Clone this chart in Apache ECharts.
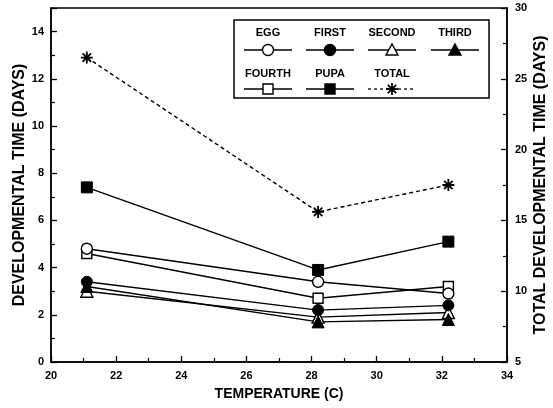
<!DOCTYPE html>
<html>
<head>
<meta charset="utf-8">
<script src="https://cdn.jsdelivr.net/npm/echarts@6/dist/echarts.min.js"></script>
<style>
  html, body { margin: 0; padding: 0; background: #fff; }
  #chart { width: 553px; height: 408px; }
</style>
</head>
<body>
<div id="chart"></div>
<script>
// Temperatures (C) at which each stage was timed
const temps = [21.1, 28.2, 32.2];

// Developmental time (days) per stage, left axis
const egg = [4.8, 3.4, 2.9];
const first = [3.4, 2.2, 2.4];
const second = [3.0, 1.9, 2.1];
const third = [3.2, 1.7, 1.8];
const fourth = [4.6, 2.7, 3.2];
const pupa = [7.4, 3.9, 5.1];

// Total developmental time (days), right axis
const total = [26.5, 15.6, 17.5];

const xTicks = [20, 22, 24, 26, 28, 30, 32, 34];
const stageNames = ["EGG", "FIRST", "SECOND", "THIRD", "FOURTH", "PUPA", "TOTAL"];

const FONT = "'Liberation Sans', Arial, sans-serif";
const STAR = "path://M0,6L12,6M6,0L6,12M1.8,1.8L10.2,10.2M10.2,1.8L1.8,10.2";

const open = { color: "#fff", borderColor: "#000", borderWidth: 1.4 };
const filled = { color: "#000", borderColor: "#000", borderWidth: 1 };

function pairs(vals) {
  return vals.map((v, i) => [temps[i], v]);
}

function stage(name, vals, symbol, size, style) {
  return {
    name,
    type: "line",
    data: pairs(vals),
    symbol,
    symbolSize: size,
    showAllSymbol: true,
    lineStyle: { color: "#000", width: 1.4 },
    itemStyle: style,
    z: 3,
    animation: false,
  };
}

const series = [
  stage(stageNames[4], fourth, "rect", 10, open),
  stage(stageNames[0], egg, "circle", 11, open),
  stage(stageNames[2], second, "triangle", 12, open),
  stage(stageNames[3], third, "triangle", 12, filled),
  stage(stageNames[1], first, "circle", 11, filled),
  stage(stageNames[5], pupa, "rect", 11, filled),
  {
    name: stageNames[6],
    type: "line",
    yAxisIndex: 1,
    data: pairs(total),
    symbol: STAR,
    symbolSize: 12,
    lineStyle: { color: "#000", width: 1.4, type: [4, 3] },
    itemStyle: { color: "none", borderColor: "#000", borderWidth: 1.8 },
    z: 3,
    animation: false,
  },
];

// hand-drawn legend box: label above a short line sample with its marker
function legendGraphic() {
  const items = [];
  items.push({
    type: "rect",
    shape: { x: 234, y: 20, width: 255, height: 78 },
    style: { fill: "#fff", stroke: "#000", lineWidth: 1.5 },
    z: 10,
  });
  const cols = [268, 330, 392, 455];
  const rows = [{ t: 33, l: 50 }, { t: 74, l: 89 }];
  const marks = ["circle-o", "circle-f", "tri-o", "tri-f", "rect-o", "rect-f", "star"];
  stageNames.forEach((name, i) => {
    const cx = cols[i % 4];
    const r = rows[i < 4 ? 0 : 1];
    items.push({
      type: "text",
      x: cx, y: r.t,
      style: { text: name, font: "bold 11px " + FONT, fill: "#000", align: "center", verticalAlign: "middle" },
      z: 11,
    });
    items.push({
      type: "line",
      shape: { x1: cx - 24, y1: r.l, x2: cx + 24, y2: r.l },
      style: { stroke: "#000", lineWidth: 1.3, lineDash: marks[i] === "star" ? [3, 3] : null },
      z: 11,
    });
    const m = marks[i];
    const fill = m.endsWith("-f") ? "#000" : "#fff";
    if (m.startsWith("circle")) {
      items.push({ type: "circle", shape: { cx, cy: r.l, r: 5.5 }, style: { fill, stroke: "#000", lineWidth: 1.4 }, z: 12 });
    } else if (m.startsWith("tri")) {
      items.push({ type: "polygon", shape: { points: [[cx, r.l - 6], [cx + 6, r.l + 5], [cx - 6, r.l + 5]] }, style: { fill, stroke: "#000", lineWidth: 1.4 }, z: 12 });
    } else if (m.startsWith("rect")) {
      items.push({ type: "rect", shape: { x: cx - 5, y: r.l - 5, width: 10, height: 10 }, style: { fill, stroke: "#000", lineWidth: 1.4 }, z: 12 });
    } else {
      const s = 6, d = 4.2;
      [[-s, 0, s, 0], [0, -s, 0, s], [-d, -d, d, d], [d, -d, -d, d]].forEach(([a, b, c, e]) => {
        items.push({ type: "line", shape: { x1: cx + a, y1: r.l + b, x2: cx + c, y2: r.l + e }, style: { stroke: "#000", lineWidth: 1.8 }, z: 12 });
      });
    }
  });
  return items;
}

const axisLabel = { color: "#000", fontFamily: FONT, fontWeight: "bold", fontSize: 11 };
const xNameStyle = { color: "#000", fontFamily: FONT, fontWeight: "bold", fontSize: 14 };
const yNameStyle = { color: "#000", fontFamily: FONT, fontWeight: "bold", fontSize: 16 };
const axisLine = { show: true, onZero: false, lineStyle: { color: "#000", width: 1.5 } };
const tick = { show: true, inside: true, length: 6, lineStyle: { color: "#000", width: 1.3 } };
const minor = { show: true, splitNumber: 2, length: 4, lineStyle: { color: "#000", width: 1.2 } };

const chart = echarts.init(document.getElementById("chart"), null, { renderer: "canvas" });
chart.setOption({
  backgroundColor: "#fff",
  animation: false,
  grid: {
    left: 51, right: 46, top: 8, bottom: 46,
    outerBoundsMode: "none",
    containLabel: false,
    show: true, borderColor: "#000", borderWidth: 1.5, backgroundColor: "transparent",
  },
  xAxis: {
    type: "value",
    min: xTicks[0],
    max: xTicks[xTicks.length - 1],
    interval: 2,
    name: "TEMPERATURE (C)",
    nameLocation: "middle",
    nameGap: 25,
    nameTextStyle: xNameStyle,
    axisLine,
    axisTick: tick,
    minorTick: minor,
    splitLine: { show: false },
    axisLabel: Object.assign({ margin: 8 }, axisLabel),
  },
  yAxis: [
    {
      type: "value",
      min: 0,
      max: 15,
      interval: 2,
      name: "DEVELOPMENTAL TIME (DAYS)",
      nameLocation: "middle",
      nameGap: 23,
      nameMoveOverlap: false,
      nameTextStyle: yNameStyle,
      axisLine,
      axisTick: tick,
      minorTick: minor,
      splitLine: { show: false },
      axisLabel: Object.assign({ margin: 7, showMaxLabel: false }, axisLabel),
    },
    {
      type: "value",
      position: "right",
      min: 5,
      max: 30,
      interval: 5,
      name: "TOTAL DEVELOPMENTAL TIME (DAYS)",
      nameLocation: "middle",
      nameGap: 26,
      nameMoveOverlap: false,
      nameRotate: 90,
      nameTextStyle: yNameStyle,
      axisLine,
      axisTick: tick,
      minorTick: minor,
      splitLine: { show: false },
      axisLabel: Object.assign({ margin: 8 }, axisLabel),
    },
  ],
  graphic: legendGraphic(),
  series,
});
</script>
</body>
</html>
